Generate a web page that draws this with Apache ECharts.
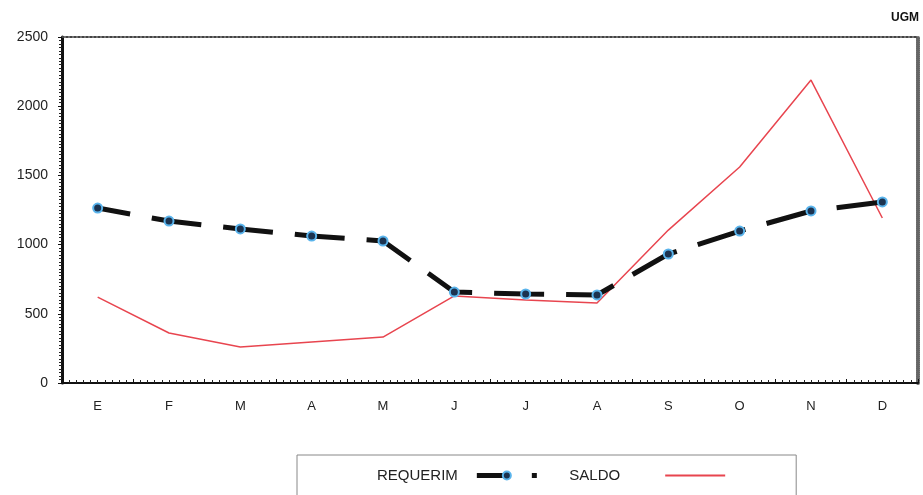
<!DOCTYPE html>
<html>
<head>
<meta charset="utf-8">
<script src="https://cdn.jsdelivr.net/npm/echarts@6/dist/echarts.min.js"></script>
<style>
html,body{margin:0;padding:0;background:#fff;}
#c{width:923px;height:495px;}
</style>
</head>
<body>
<div id="c"></div>
<script>
const months = ['E','F','M','A','M','J','J','A','S','O','N','D'];
const requerim = [1264, 1170, 1113, 1062, 1026, 657, 643, 636, 932, 1098, 1243, 1308];
const saldo = [621, 361, 260, 296, 332, 629, 600, 578, 1105, 1561, 2189, 1192];
const yTicks = [0, 500, 1000, 1500, 2000, 2500];
const unitLabel = 'UGM';

const chart = echarts.init(document.getElementById('c'));
const font = 'Liberation Sans, Arial, sans-serif';
chart.setOption({
  animation: false,
  backgroundColor: '#fff',
  grid: { left: 62, right: 5, top: 37, bottom: 112, containLabel: false },
  graphic: [{
    type: 'text', right: 4, top: 12,
    style: { text: unitLabel, font: 'bold 12px ' + font, fill: '#111' }
  }],
  xAxis: [{
    type: 'category', data: months, boundaryGap: true, position: 'bottom',
    axisLine: { show: false }, axisTick: { show: false },
    axisLabel: { fontFamily: font, fontSize: 13, color: '#222', margin: 17 }
  }, {
    type: 'value', min: 0, max: 12, interval: 1, position: 'bottom',
    axisLine: { show: true, lineStyle: { color: '#111', width: 2 } },
    axisTick: { show: true, length: 4, inside: true, lineStyle: { color: '#111', width: 1 } },
    minorTick: { show: true, splitNumber: 10, length: 3, lineStyle: { color: '#222', width: 1 } },
    axisLabel: { show: false }, splitLine: { show: false }
  }, {
    type: 'category', data: months, position: 'top',
    axisLine: { show: true, lineStyle: { color: '#444', width: 2, type: [2, 2] } },
    axisTick: { show: false }, axisLabel: { show: false }
  }],
  yAxis: [{
    type: 'value', min: 0, max: 2500, interval: 500,
    axisLine: { show: true, lineStyle: { color: '#111', width: 3 } },
    axisTick: { show: true, length: 4, lineStyle: { color: '#111' } },
    minorTick: { show: true, splitNumber: 20, length: 3, lineStyle: { color: '#222' } },
    splitLine: { show: false },
    axisLabel: {
      fontFamily: font, fontSize: 14, color: '#222', margin: 14,
      formatter: v => yTicks.includes(v) ? String(v) : ''
    }
  }, {
    type: 'value', min: 0, max: 2500, interval: 500, position: 'right',
    axisLine: { show: true, lineStyle: { color: '#666', width: 4, type: [1, 1] } },
    axisTick: { show: false }, axisLabel: { show: false }, splitLine: { show: false }
  }],
  legend: {
    left: 297, top: 455,
    padding: [13, 70, 30, 80],
    borderColor: '#888', borderWidth: 1,
    align: 'right', itemGap: 30, itemWidth: 60, itemHeight: 10,
    textStyle: { fontFamily: font, fontSize: 15, color: '#222' },
    data: [
      { name: 'REQUERIM', textStyle: { padding: [0, 14, 0, 0] }, lineStyle: { width: 5 } },
      { name: 'SALDO', textStyle: { padding: [0, 40, 0, 0] }, itemStyle: { opacity: 0 } }
    ]
  },
  series: [{
    name: 'REQUERIM', type: 'line', data: requerim,
    xAxisIndex: 0, yAxisIndex: 0,
    lineStyle: { color: '#111', width: 5, type: [50, 22], dashOffset: 17 },
    itemStyle: { color: '#1c3350', borderColor: '#5ab4ec', borderWidth: 2 },
    symbol: 'circle', symbolSize: 9, z: 3
  }, {
    name: 'SALDO', type: 'line', data: saldo,
    xAxisIndex: 0, yAxisIndex: 0,
    lineStyle: { color: '#e8454f', width: 1.5 },
    itemStyle: { color: '#e8454f' },
    symbol: 'none', z: 2
  }]
});
</script>
</body>
</html>
